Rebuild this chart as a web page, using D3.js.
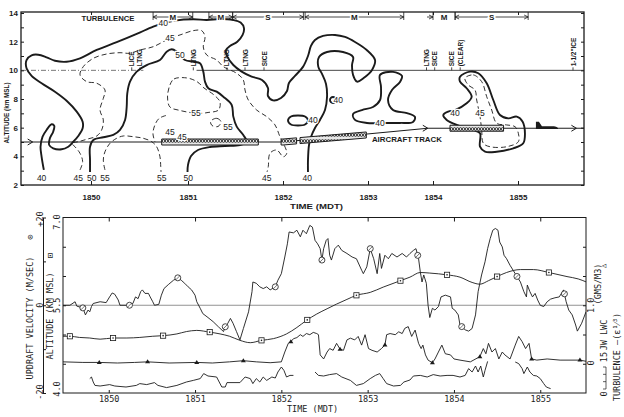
<!DOCTYPE html>
<html>
<head>
<meta charset="utf-8">
<script src="https://cdn.jsdelivr.net/npm/d3@7"></script>
<style>
  body { margin: 0; background: #fff; }
  svg { display: block; }
</style>
</head>
<body>
<svg id="fig" width="624" height="417"></svg>
<script>
// ---------- data ----------
// time = minutes after 18:50 MDT
var minuteTicks = [0, 1, 2, 3, 4, 5];
var minuteLabels = ["1850", "1851", "1852", "1853", "1854", "1855"];
var topAltTicks = [2, 3, 4, 5, 6, 7, 8, 9, 10, 11, 12, 13, 14];

// reflectivity contours, [time, altitude km]
var iso40Main = [[-0.485,3.05],[-0.508,3.97],[-0.519,4.67],[-0.498,5.37],[-0.457,5.84],[-0.405,6.24],[-0.378,6.12],[-0.389,5.72],[-0.423,5.26],[-0.430,4.79],[-0.389,4.56],[-0.302,4.49],[-0.234,4.67],[-0.182,5.02],[-0.131,5.42],[-0.086,5.96],[-0.086,6.42],[-0.147,7.12],[-0.251,7.88],[-0.371,8.51],[-0.508,9.10],[-0.611,9.61],[-0.663,10.14],[-0.663,10.72],[-0.611,11.05],[-0.543,11.09],[-0.457,10.91],[-0.371,10.67],[-0.251,10.60],[-0.113,10.84],[0.059,11.42],[0.265,11.96],[0.471,12.54],[0.642,13.05],[0.745,13.28],[0.866,13.47],[1.056,13.56],[1.197,13.51],[1.335,13.58],[1.476,13.51],[1.554,13.33],[1.589,12.94],[1.575,12.47],[1.519,12.0],[1.442,11.70],[1.40,11.42],[1.414,10.95],[1.477,10.37],[1.565,9.91],[1.67,9.56],[1.779,9.33],[1.842,8.77],[1.842,8.21],[1.895,7.90],[1.979,8.07],[2.047,8.56],[2.07,9.12],[2.141,9.61],[2.235,10.24],[2.294,11.0],[2.329,11.70],[2.376,12.12],[2.471,12.40],[2.612,12.47],[2.729,12.33],[2.847,11.98],[2.985,11.42],[3.108,10.72],[3.062,10.03],[2.945,9.45],[2.871,9.21],[2.824,9.68],[2.812,10.37],[2.824,10.93],[2.706,11.28],[2.518,11.28],[2.424,10.93],[2.415,10.26],[2.459,9.75],[2.506,9.05],[2.518,8.14],[2.494,7.23],[2.435,6.54],[2.376,5.98],[2.329,5.35],[2.306,4.79],[2.294,3.74],[2.294,2.91]];
var iso50 = [[-0.010,2.91],[-0.010,3.74],[-0.010,4.67],[0.024,5.14],[0.127,5.33],[0.230,5.49],[0.299,5.84],[0.351,6.54],[0.368,7.46],[0.374,8.40],[0.402,9.21],[0.471,9.91],[0.574,10.37],[0.711,10.72],[0.780,11.30],[0.832,11.47],[0.884,11.30],[0.918,11.07],[0.969,10.72],[1.056,10.60],[1.126,10.49],[1.161,9.91],[1.179,9.21],[1.214,8.75],[1.302,8.51],[1.372,8.16],[1.46,7.58],[1.477,6.77],[1.513,6.07],[1.582,5.49],[1.618,5.0],[1.547,4.79],[1.389,4.72],[1.232,4.65],[1.105,4.44],[1.032,4.02],[1.0,3.40],[0.995,2.91]];
var iso40Ring = [[2.059,6.50],[2.094,6.78],[2.176,6.85],[2.259,6.78],[2.294,6.50],[2.259,6.22],[2.176,6.15],[2.094,6.22]];
var iso40Dot = [[2.553,7.93],[2.563,8.08],[2.588,8.14],[2.613,8.08],[2.623,7.93],[2.613,7.78],[2.588,7.72],[2.563,7.78]];
var iso40Bone = [[3.185,9.68],[3.385,9.89],[3.523,9.61],[3.492,9.19],[3.369,8.63],[3.308,7.93],[3.385,7.23],[3.60,7.02],[3.723,6.75],[3.692,6.40],[3.492,6.33],[3.262,6.33],[2.988,6.33],[2.847,6.54],[2.824,6.95],[2.929,7.23],[3.077,7.44],[3.185,7.93],[3.20,8.84]];
var iso40East = [[4.318,9.56],[4.435,9.91],[4.533,9.80],[4.632,9.10],[4.709,7.93],[4.788,6.88],[4.886,6.65],[4.985,6.77],[5.055,6.42],[5.082,5.61],[5.062,4.91],[4.945,4.56],[4.749,4.32],[4.612,4.32],[4.553,4.67],[4.553,5.61],[4.474,5.84],[4.279,6.19],[4.161,6.54],[4.121,6.88],[4.180,7.12],[4.259,7.23],[4.396,7.70],[4.455,8.16],[4.396,8.75],[4.318,9.21]];
var iso45Main = [[-0.113,3.05],[-0.086,3.63],[-0.113,4.21],[-0.165,4.67],[-0.199,4.91],[-0.131,5.02],[-0.044,5.19],[0.059,5.42],[0.110,5.84],[0.127,6.54],[0.093,7.23],[0.127,8.05],[0.144,8.63],[0.059,9.10],[-0.044,9.21],[-0.113,9.68],[-0.079,10.26],[0.024,10.84],[0.162,11.14],[0.299,11.23],[0.402,11.19],[0.505,11.42],[0.642,11.65],[0.814,12.24],[0.918,12.47],[1.056,12.77],[1.144,12.77],[1.179,12.35],[1.161,11.63],[1.197,11.07],[1.302,10.72],[1.372,10.26],[1.513,9.79],[1.582,9.33],[1.60,8.63],[1.635,7.93],[1.723,7.23],[1.828,6.77],[1.916,6.19],[1.968,5.37],[2.004,4.91],[2.044,4.21],[2.004,3.97],[1.934,4.44],[1.863,4.21],[1.845,3.28],[1.832,2.91]];
var iso55Arch = [[0.144,3.05],[0.127,3.74],[0.144,4.32],[0.196,4.91],[0.265,5.26],[0.333,5.42],[0.436,5.37],[0.539,5.26],[0.626,5.02],[0.677,4.67],[0.711,3.97],[0.719,3.28],[0.722,2.91]];
var iso45Arc = [[0.773,6.85],[0.701,6.64],[0.655,6.12],[0.639,5.56],[0.660,5.0]];
var iso45Stub = [[0.985,5.26],[1.04,5.10]];
var iso55Core = [[0.814,8.98],[0.856,9.40],[0.987,9.47],[1.095,9.21],[1.168,8.77],[1.274,8.28],[1.337,7.79],[1.321,7.23],[1.211,7.06],[1.116,6.99],[1.021,7.06],[0.918,7.20],[0.814,7.44],[0.789,8.14]];
var iso55Cell = [[1.253,6.54],[1.305,6.65],[1.347,6.42],[1.316,6.08],[1.253,6.15],[1.237,6.40]];
var iso45East = [[4.376,9.45],[4.474,9.68],[4.573,9.21],[4.632,8.16],[4.691,7.23],[4.749,6.31],[4.867,6.19],[4.965,6.07],[5.004,5.61],[5.004,5.02],[4.867,4.67],[4.671,4.67],[4.592,4.91],[4.573,5.84],[4.553,6.77],[4.514,7.93],[4.494,8.63],[4.415,8.98]];

var isoLabels = [[-0.508,2.49,"40"],[-0.131,2.49,"45"],[0.007,2.49,"50"],[0.144,2.49,"55"],[0.729,2.49,"55"],[1.003,2.49,"50"],[1.828,2.49,"45"],[2.286,2.49,"40"],[0.745,13.28,"40"],[0.814,12.24,"45"],[0.918,11.07,"50"],[1.084,6.99,"55"],[1.421,6.07,"55"],[0.814,5.72,"45"],[0.938,5.35,"45"],[2.353,6.54,"40"],[2.65,7.93,"40"],[3.185,6.36,"40"],[4.259,7.0,"40"],[4.553,7.0,"45"]];

// aircraft track and sampled segments
var trackTime = [-0.72, 2.0, 3.92, 5.78];
var trackAlt = [5.0, 5.0, 5.96, 5.96];
var sampleBars = [[0.729, 1.74], [1.98, 2.16], [2.2, 2.98], [4.2, 4.83]];

// turbulence category along the top, [start, end, class]
var turbSegs = [[0.64, 1.05, "M"], [1.22, 1.47, "M"], [1.47, 2.24, "S"], [2.26, 3.55, "M"], [4.0, 4.26, "M"], [4.26, 5.12, "S"]];

// pilot notes at 10 km
var events = [[0.42, "LICE"], [0.505, "LTNG"], [1.056, "LTNG"], [1.41, "LTNG"], [1.60, "LTNG"], [1.80, "SICE"], [3.90, "LTNG"], [4.02, "SICE"], [4.22, "SICE"], [4.32, "(CLEAR)"], [5.65, '1-1/2"ICE']];

// ---- bottom panel series ----
var updraft = [[-0.53,0],[-0.45,0],[-0.39,0.8],[-0.37,-0.2],[-0.30,-0.6],[-0.27,-2.2],[-0.24,-1.1],[-0.22,-1.5],[-0.20,-0.3],[-0.18,0.4],[-0.10,0.8],[-0.03,0.6],[0.01,1.9],[0.04,2.8],[0.07,2.5],[0.11,1.2],[0.13,0],[0.24,0],[0.28,0.4],[0.31,1.9],[0.34,1.5],[0.37,3.1],[0.39,3.5],[0.42,2.7],[0.46,2.7],[0.48,1.9],[0.51,0.8],[0.53,0],[0.58,0.2],[0.61,2.3],[0.64,3.8],[0.69,4.7],[0.75,5.7],[0.80,6.25],[0.84,5.7],[0.88,5.0],[0.92,4.2],[0.96,3.5],[1.00,2.3],[1.02,0.8],[1.06,-0.7],[1.09,-1.9],[1.15,-2.8],[1.21,-3.75],[1.27,-4.9],[1.33,-6.0],[1.35,-4.9],[1.38,-4.1],[1.41,-3.0],[1.44,-4.1],[1.48,-6.0],[1.52,-7.9],[1.56,-5.3],[1.62,-1.5],[1.66,3.1],[1.67,5.3],[1.71,5.0],[1.75,4.2],[1.79,3.8],[1.83,4.2],[1.87,3.5],[1.93,4.2],[1.96,5.7],[2.00,7.2],[2.04,11],[2.07,14],[2.09,16.7],[2.14,16.5],[2.18,17.1],[2.22,15.6],[2.25,17.1],[2.29,16.3],[2.33,18.2],[2.36,17.8],[2.39,14.8],[2.42,14.0],[2.45,12.9],[2.47,10.3],[2.49,12.9],[2.52,14.8],[2.54,15.2],[2.56,11.4],[2.58,10.3],[2.62,12.9],[2.66,13.7],[2.70,12.5],[2.76,11.8],[2.82,11.0],[2.87,10.6],[2.93,8.0],[2.95,7.2],[2.99,8.75],[3.03,12.9],[3.07,10.6],[3.11,7.2],[3.14,11.8],[3.16,8.4],[3.20,11.4],[3.24,10.6],[3.28,11.8],[3.34,11.0],[3.40,11.8],[3.45,11.0],[3.49,11.8],[3.53,12.5],[3.56,12.9],[3.59,10.6],[3.61,7.6],[3.63,5.3],[3.65,6.9],[3.68,5.0],[3.70,0],[3.72,-2.8],[3.75,-0.7],[3.78,-1.1],[3.82,-0.3],[3.85,1.9],[3.90,2.3],[3.96,1.9],[3.98,-0.7],[4.01,-1.1],[4.05,-2.2],[4.07,-4.5],[4.13,-5.6],[4.17,-5.9],[4.21,-5.3],[4.25,-2.2],[4.28,3.1],[4.32,6.9],[4.36,9.9],[4.39,12.9],[4.42,15.2],[4.45,17.1],[4.48,17.5],[4.51,17.1],[4.53,14.4],[4.56,13.3],[4.58,11.4],[4.61,10.6],[4.65,9.1],[4.71,7.2],[4.77,5.3],[4.81,3.1],[4.84,1.9],[4.85,4.6],[4.88,3.1],[4.91,1.9],[4.94,2.7],[4.97,1.2],[5.00,0],[5.04,-0.3],[5.08,0.8],[5.12,1.4],[5.17,1.7],[5.22,1.9],[5.27,3.5],[5.30,0.8],[5.33,-1.1],[5.37,-2.2],[5.41,-4.5],[5.43,-5.9],[5.48,-4.1],[5.53,-1.5]];
var updraftMarks = [-0.30, 0.24, 0.80, 1.35, 1.93, 2.47, 3.03, 3.58, 4.09, 4.73, 5.28];

var altitude = [[-0.53,4.97],[-0.45,4.97],[-0.34,4.95],[-0.22,4.94],[-0.10,4.92],[0.05,4.94],[0.21,4.94],[0.36,4.95],[0.51,4.97],[0.63,4.98],[0.79,5.01],[0.90,5.05],[1.02,5.07],[1.17,5.04],[1.29,5.01],[1.40,4.97],[1.52,4.90],[1.64,4.86],[1.77,4.90],[1.91,4.93],[2.06,5.01],[2.18,5.12],[2.29,5.24],[2.41,5.35],[2.53,5.44],[2.64,5.52],[2.76,5.60],[2.87,5.67],[3.03,5.72],[3.18,5.81],[3.38,5.92],[3.49,5.98],[3.61,6.06],[3.72,6.05],[3.92,6.02],[4.07,5.98],[4.21,5.89],[4.30,5.86],[4.40,5.92],[4.50,5.99],[4.61,6.06],[4.77,6.11],[4.92,6.11],[5.10,6.06],[5.31,5.99],[5.44,5.95],[5.53,5.90]];
var altitudeMarks = [-0.45, 0.05, 0.63, 1.17, 1.77, 2.30, 2.87, 3.38, 3.92, 4.50, 5.10];

var lwc = [[-0.53,0.02],[-0.3,0.01],[-0.11,0.01],[0.1,0.0],[0.3,0.01],[0.45,0.02],[0.7,0.0],[1.02,0.01],[1.2,0.0],[1.40,0.02],[1.56,0.04],[1.71,0.02],[1.87,0.005],[2.0,0.02],[2.04,0.19],[2.08,0.34],[2.11,0.37],[2.14,0.42],[2.18,0.44],[2.22,0.49],[2.25,0.46],[2.29,0.51],[2.33,0.49],[2.37,0.53],[2.41,0.51],[2.43,0.49],[2.45,0.14],[2.49,0.07],[2.53,0.19],[2.56,0.25],[2.60,0.22],[2.64,0.34],[2.68,0.24],[2.72,0.22],[2.76,0.40],[2.80,0.43],[2.85,0.40],[2.89,0.46],[2.93,0.31],[2.97,0.49],[3.01,0.25],[3.05,0.22],[3.11,0.19],[3.16,0.25],[3.20,0.31],[3.22,0.49],[3.26,0.51],[3.32,0.49],[3.36,0.54],[3.40,0.51],[3.43,0.60],[3.47,0.63],[3.51,0.46],[3.55,0.57],[3.59,0.34],[3.62,0.25],[3.64,0.31],[3.67,0.14],[3.70,0.05],[3.75,0.005],[3.78,0.07],[3.82,0.19],[3.86,0.31],[3.90,0.16],[3.96,0.14],[4.0,0.07],[4.07,0.05],[4.19,0.02],[4.30,0.11],[4.34,0.25],[4.37,0.16],[4.40,0.34],[4.44,0.19],[4.48,0.25],[4.52,0.07],[4.56,0.19],[4.59,0.14],[4.65,0.07],[4.71,0.31],[4.75,0.46],[4.79,0.37],[4.83,0.25],[4.87,0.34],[4.90,0.07],[4.96,0.05],[5.08,0.07],[5.23,0.05],[5.46,0.05],[5.53,0.03]];
var lwcMarks = [-0.11, 0.45, 1.02, 1.56, 2.11, 2.68, 3.20, 3.75, 4.30, 4.90, 5.46];

// null = no record
var turbulence = [[-0.22,7.2],[-0.20,8.0],[-0.18,5.5],[-0.16,3.8],[-0.10,3.5],[0.01,4.2],[0.07,3.5],[0.20,3.0],[0.32,3.8],[0.36,4.7],[0.44,4.2],[0.53,5.2],[0.57,3.8],[0.67,2.7],[0.79,3.8],[0.90,5.5],[0.98,6.3],[1.06,7.2],[1.10,9.7],[1.15,8.5],[1.25,8.0],[1.28,5.5],[1.31,3.0],[1.35,3.0],[1.37,5.2],[1.52,5.2],[1.58,8.0],[1.64,7.2],[1.67,4.7],[1.71,7.2],[1.75,5.5],[1.79,8.0],[1.83,6.3],[1.89,8.0],[1.93,7.5],[1.96,10.5],[2.0,13],[2.03,11.3],[2.06,8.0],[2.10,8.8],[2.14,8.8],[2.2,null],[2.39,10.5],[2.43,8.8],[2.49,8.5],[2.56,9.2],[2.64,9.7],[2.70,8.0],[2.80,6.3],[2.87,3.8],[2.95,4.7],[3.03,7.2],[3.09,8.8],[3.14,9.7],[3.18,7.2],[3.22,4.7],[3.30,3.5],[3.38,3.8],[3.42,5.5],[3.49,6.5],[3.53,8.5],[3.61,8.8],[3.69,8.0],[3.76,9.2],[3.84,8.5],[3.92,8.8],[3.99,8.8],[4.07,8.0],[4.13,8.8],[4.17,12.2],[4.21,10.5],[4.25,13.5],[4.28,10.5],[4.31,13.5],[4.34,8.0],[4.36,11.3],[4.39,15.8],[4.5,null],[4.71,15.5],[4.75,14.7],[4.79,12.2],[4.81,9.7],[4.85,13],[4.88,10.5],[4.92,8.8],[4.96,8.5],[5.0,7.2],[5.04,4.7],[5.07,3.0],[5.10,2.5],[5.12,2.2]];

// ---------- drawing ----------
var ink = "#1b1b1b";
var svg = d3.select("#fig");
var sans = "'Liberation Sans', Arial, sans-serif";
var mono = "'DejaVu Sans Mono', monospace";

// ===== top panel =====
var T = { left: 21, top: 12, right: 584, bottom: 185 };
// time axis in the cross-section is not uniform (plotted along the track)
var tx = d3.scaleLinear()
    .domain([-0.72, 0, 1, 2, 3, 4, 5, 5.78])
    .range([21, 91, 188, 283, 368, 433, 518, 584]);
var ty = d3.scaleLinear().domain([2, 14]).range([185, 13]);

var defs = svg.append("defs");
defs.append("clipPath").attr("id", "clipTop").append("rect")
    .attr("x", T.left).attr("y", T.top).attr("width", T.right - T.left).attr("height", T.bottom - T.top);
var pat = defs.append("pattern").attr("id", "beads")
    .attr("patternUnits", "userSpaceOnUse").attr("width", 3).attr("height", 6);
pat.append("rect").attr("width", 3).attr("height", 6).attr("fill", "#e8e8e8");
pat.append("circle").attr("cx", 1.5).attr("cy", 3).attr("r", 1.35)
    .attr("fill", "#fff").attr("stroke", ink).attr("stroke-width", 0.9);

var gTop = svg.append("g");
var plotTop = gTop.append("g").attr("clip-path", "url(#clipTop)");

// 10 km reference line
plotTop.append("line")
    .attr("x1", tx(-0.72)).attr("x2", tx(0.54))
    .attr("y1", ty(10)).attr("y2", ty(10))
    .attr("stroke", "#555").attr("stroke-width", 0.8).attr("stroke-dasharray", "5,2,1,2");
plotTop.append("line")
    .attr("x1", tx(1.09)).attr("x2", tx(5.78))
    .attr("y1", ty(10)).attr("y2", ty(10))
    .attr("stroke", "#333").attr("stroke-width", 0.9);

var openLine = d3.line().x(function(d) { return tx(d[0]); }).y(function(d) { return ty(d[1]); })
    .curve(d3.curveCatmullRom.alpha(0.5));
var loopLine = d3.line().x(function(d) { return tx(d[0]); }).y(function(d) { return ty(d[1]); })
    .curve(d3.curveCatmullRomClosed.alpha(0.5));

[iso40Main, iso50].forEach(function(c) {
    plotTop.append("path").attr("d", openLine(c))
        .attr("fill", "none").attr("stroke", ink).attr("stroke-width", 1.9);
});
[iso40Ring, iso40Dot, iso40Bone, iso40East].forEach(function(c) {
    plotTop.append("path").attr("d", loopLine(c))
        .attr("fill", "none").attr("stroke", ink).attr("stroke-width", 1.9);
});
[iso45Main, iso55Arch, iso45Arc, iso45Stub].forEach(function(c) {
    plotTop.append("path").attr("d", openLine(c))
        .attr("fill", "none").attr("stroke", ink).attr("stroke-width", 0.9)
        .attr("stroke-dasharray", "5,3");
});
[iso55Core, iso55Cell, iso45East].forEach(function(c) {
    plotTop.append("path").attr("d", loopLine(c))
        .attr("fill", "none").attr("stroke", ink).attr("stroke-width", 0.9)
        .attr("stroke-dasharray", "5,3");
});

// aircraft track
var trackY = d3.scaleLinear().domain(trackTime).range(trackAlt);
var trackLine = d3.line().x(function(d) { return tx(d); }).y(function(d) { return ty(trackY(d)); });
plotTop.append("path").attr("d", trackLine(trackTime))
    .attr("fill", "none").attr("stroke", ink).attr("stroke-width", 1);

// sampled segments drawn as beaded bands on the track
sampleBars.forEach(function(b) {
    var ts = [b[0]].concat(trackTime.filter(function(t) { return t > b[0] && t < b[1]; }), [b[1]]);
    var upper = ts.map(function(t) { return [tx(t), ty(trackY(t)) - 3]; });
    var lower = ts.slice().reverse().map(function(t) { return [tx(t), ty(trackY(t)) + 3]; });
    plotTop.append("path")
        .attr("d", "M" + upper.concat(lower).join("L") + "Z")
        .attr("fill", "url(#beads)").attr("stroke", ink).attr("stroke-width", 1);
});

// arrowheads on track
[-0.6, 3.92, 5.69].forEach(function(t) {
    var x = tx(t), y = ty(trackY(t));
    plotTop.append("path").attr("d", "M" + (x - 5) + "," + (y - 3) + "L" + x + "," + y + "L" + (x - 5) + "," + (y + 3))
        .attr("fill", "none").attr("stroke", ink).attr("stroke-width", 1);
});

// aircraft silhouette
(function() {
    var x = tx(5.33), y = ty(trackY(5.33));
    plotTop.append("path")
        .attr("d", "M-10,0 L-10,-6.5 L-7,-6.5 L-4,-2 L8,-2 Q13,-1 12,0.8 L-10,0.8 Z")
        .attr("transform", "translate(" + x + "," + y + ")")
        .attr("fill", ink);
})();

gTop.append("text")
    .attr("x", tx(3.06)).attr("y", ty(5.0))
    .attr("font-family", sans).attr("font-size", 8).attr("font-weight", "bold")
    .attr("textLength", 70).attr("lengthAdjust", "spacingAndGlyphs")
    .attr("fill", ink).text("AIRCRAFT TRACK");

// contour labels
gTop.selectAll(".isoLab").data(isoLabels).enter().append("text")
    .attr("class", "isoLab")
    .attr("x", function(d) { return tx(d[0]); })
    .attr("y", function(d) { return ty(d[1]); })
    .attr("text-anchor", "middle").attr("dominant-baseline", "central")
    .attr("font-family", sans).attr("font-size", 8.5)
    .attr("fill", ink).attr("stroke", "#fff").attr("stroke-width", 2.5)
    .attr("paint-order", "stroke")
    .text(function(d) { return d[2]; });

// pilot notes
events.forEach(function(e) {
    var x = tx(e[0]), y = ty(10);
    gTop.append("line").attr("x1", x).attr("x2", x).attr("y1", y).attr("y2", y - 3)
        .attr("stroke", ink).attr("stroke-width", 0.8);
    gTop.append("text")
        .attr("transform", "translate(" + x + "," + (y - 4) + ") rotate(-90)")
        .attr("dominant-baseline", "central")
        .attr("font-family", sans).attr("font-size", 6.5).attr("font-weight", "bold")
        .attr("fill", ink).text(e[1]);
});

// turbulence classes along the top
var hy = 17;
turbSegs.forEach(function(s) {
    var x0 = tx(s[0]), x1 = tx(s[1]);
    var g = gTop.append("g").attr("stroke", ink).attr("stroke-width", 0.8).attr("fill", "none");
    g.append("line").attr("x1", x0).attr("x2", x0).attr("y1", T.top).attr("y2", hy + 3);
    g.append("line").attr("x1", x1).attr("x2", x1).attr("y1", T.top).attr("y2", hy + 3);
    if (x1 - x0 > 23) {
        g.append("line").attr("x1", x0).attr("x2", x1).attr("y1", hy).attr("y2", hy);
        g.append("path").attr("d", "M" + (x0 + 4) + "," + (hy - 2) + "L" + x0 + "," + hy + "L" + (x0 + 4) + "," + (hy + 2));
        g.append("path").attr("d", "M" + (x1 - 4) + "," + (hy - 2) + "L" + x1 + "," + hy + "L" + (x1 - 4) + "," + (hy + 2));
    } else {
        g.append("line").attr("x1", x0 - 6).attr("x2", x0).attr("y1", hy).attr("y2", hy);
        g.append("path").attr("d", "M" + (x0 - 4) + "," + (hy - 2) + "L" + x0 + "," + hy + "L" + (x0 - 4) + "," + (hy + 2));
    }
    gTop.append("text").attr("x", (x0 + x1) / 2).attr("y", hy)
        .attr("text-anchor", "middle").attr("dominant-baseline", "central")
        .attr("font-family", sans).attr("font-size", 8).attr("font-weight", "bold")
        .attr("fill", ink).attr("stroke", "#fff").attr("stroke-width", 3).attr("paint-order", "stroke")
        .text(s[2]);
});
gTop.append("text").attr("x", 108).attr("y", 18)
    .attr("text-anchor", "middle").attr("dominant-baseline", "central")
    .attr("font-family", sans).attr("font-size", 8).attr("font-weight", "bold")
    .attr("textLength", 53).attr("lengthAdjust", "spacingAndGlyphs")
    .attr("fill", ink).text("TURBULENCE");

// frame and axes
gTop.append("rect").attr("x", T.left).attr("y", T.top)
    .attr("width", T.right - T.left).attr("height", T.bottom - T.top)
    .attr("fill", "none").attr("stroke", ink).attr("stroke-width", 1.3);

gTop.append("g").attr("transform", "translate(" + T.left + ",0)")
    .call(d3.axisLeft(ty).tickValues(topAltTicks).tickSizeInner(-3).tickSizeOuter(0).tickPadding(3)
        .tickFormat(function(d) { return d % 2 === 0 ? d : ""; }));
gTop.append("g").attr("transform", "translate(" + T.right + ",0)")
    .call(d3.axisRight(ty).tickValues(topAltTicks).tickSizeInner(-3).tickSizeOuter(0).tickFormat(""));
gTop.append("g").attr("transform", "translate(0," + T.bottom + ")")
    .call(d3.axisBottom(tx).tickValues(minuteTicks).tickSizeInner(-4).tickSizeOuter(0).tickPadding(9)
        .tickFormat(function(d, i) { return minuteLabels[i]; }));
gTop.append("g").attr("transform", "translate(0," + T.top + ")")
    .call(d3.axisTop(tx).tickValues(minuteTicks).tickSizeInner(-3).tickSizeOuter(0).tickFormat(""));
gTop.selectAll(".domain").remove();
gTop.selectAll(".tick line").attr("stroke", ink);
gTop.selectAll(".tick text").attr("font-family", sans).attr("font-size", 8)
    .attr("font-weight", "bold").attr("fill", ink);

gTop.append("text").attr("x", 290).attr("y", 208.5)
    .attr("font-family", sans).attr("font-size", 8).attr("font-weight", "bold")
    .attr("textLength", 53).attr("lengthAdjust", "spacingAndGlyphs")
    .attr("fill", ink).text("TIME (MDT)");
gTop.append("text").attr("transform", "translate(6,113) rotate(-90)")
    .attr("text-anchor", "middle").attr("dominant-baseline", "central")
    .attr("font-family", sans).attr("font-size", 7.5).attr("font-weight", "bold")
    .attr("textLength", 61).attr("lengthAdjust", "spacingAndGlyphs")
    .attr("fill", ink).text("ALTITUDE (km MSL)");

// ===== bottom panel =====
var B = { left: 63, top: 217.5, right: 586, bottom: 393 };
var bx = d3.scaleLinear().domain([-0.53, 5.53]).range([B.left, B.right]);
var velY = d3.scaleLinear().domain([-20, 20]).range([B.bottom, B.top]);
var altY = d3.scaleLinear().domain([4, 7]).range([B.bottom, B.top]);
var lwcY = d3.scaleLinear().domain([0, 1]).range([363, altY(5.5)]);
var turbY = d3.scaleLinear().domain([0, 15]).range([B.bottom, 363]);

defs.append("clipPath").attr("id", "clipBot").append("rect")
    .attr("x", B.left).attr("y", B.top).attr("width", B.right - B.left).attr("height", B.bottom - B.top);

var gBot = svg.append("g");
var plotBot = gBot.append("g").attr("clip-path", "url(#clipBot)");

plotBot.append("line").attr("x1", B.left).attr("x2", B.right)
    .attr("y1", velY(0)).attr("y2", velY(0))
    .attr("stroke", "#777").attr("stroke-width", 0.8);

function seriesLine(yScale, curve) {
    return d3.line()
        .defined(function(d) { return d[1] !== null; })
        .x(function(d) { return bx(d[0]); })
        .y(function(d) { return yScale(d[1]); })
        .curve(curve || d3.curveLinear);
}
plotBot.append("path").attr("d", seriesLine(velY)(updraft))
    .attr("fill", "none").attr("stroke", ink).attr("stroke-width", 0.9);
plotBot.append("path").attr("d", seriesLine(altY, d3.curveMonotoneX)(altitude))
    .attr("fill", "none").attr("stroke", ink).attr("stroke-width", 0.9);
plotBot.append("path").attr("d", seriesLine(lwcY)(lwc))
    .attr("fill", "none").attr("stroke", ink).attr("stroke-width", 0.9);
plotBot.append("path").attr("d", seriesLine(turbY)(turbulence))
    .attr("fill", "none").attr("stroke", ink).attr("stroke-width", 0.9);

// markers placed on each trace
var velAt = d3.scaleLinear().domain(updraft.map(function(d) { return d[0]; })).range(updraft.map(function(d) { return d[1]; }));
var altAt = d3.scaleLinear().domain(altitude.map(function(d) { return d[0]; })).range(altitude.map(function(d) { return d[1]; }));
var lwcAt = d3.scaleLinear().domain(lwc.map(function(d) { return d[0]; })).range(lwc.map(function(d) { return d[1]; }));

updraftMarks.forEach(function(t) {
    var x = bx(t), y = velY(velAt(t));
    gBot.append("circle").attr("cx", x).attr("cy", y).attr("r", 3)
        .attr("fill", "#fff").attr("stroke", ink).attr("stroke-width", 0.8);
    gBot.append("line").attr("x1", x - 2).attr("x2", x + 2).attr("y1", y + 2).attr("y2", y - 2)
        .attr("stroke", ink).attr("stroke-width", 0.6);
});
altitudeMarks.forEach(function(t) {
    var x = bx(t), y = altY(altAt(t));
    gBot.append("rect").attr("x", x - 2.6).attr("y", y - 2.6).attr("width", 5.2).attr("height", 5.2)
        .attr("fill", "#fff").attr("stroke", ink).attr("stroke-width", 0.8);
    gBot.append("circle").attr("cx", x).attr("cy", y).attr("r", 0.8).attr("fill", ink);
});
lwcMarks.forEach(function(t) {
    var x = bx(t), y = lwcY(lwcAt(t));
    gBot.append("path").attr("d", "M" + (x - 2.5) + "," + (y + 1.5) + "L" + x + "," + (y - 2.5) + "L" + (x + 2.5) + "," + (y + 1.5) + "Z")
        .attr("fill", ink);
});

// frame and ticks
gBot.append("rect").attr("x", B.left).attr("y", B.top)
    .attr("width", B.right - B.left).attr("height", B.bottom - B.top)
    .attr("fill", "none").attr("stroke", ink).attr("stroke-width", 1);
var altTicks = [4.5, 5, 5.5, 6, 6.5];
gBot.append("g").attr("transform", "translate(" + B.left + ",0)")
    .call(d3.axisLeft(altY).tickValues(altTicks).tickSizeInner(-3).tickSizeOuter(0).tickFormat(""));
gBot.append("g").attr("transform", "translate(" + B.right + ",0)")
    .call(d3.axisRight(altY).tickValues(altTicks).tickSizeInner(-3).tickSizeOuter(0).tickFormat(""));
gBot.append("g").attr("transform", "translate(0," + B.top + ")")
    .call(d3.axisTop(bx).tickValues(minuteTicks).tickSizeInner(-4).tickSizeOuter(0).tickFormat(""));
gBot.append("g").attr("transform", "translate(0," + B.bottom + ")")
    .call(d3.axisBottom(bx).tickValues(minuteTicks).tickSizeInner(-3).tickSizeOuter(0).tickPadding(3)
        .tickFormat(function(d, i) { return minuteLabels[i]; }));
gBot.selectAll(".domain").remove();
// separate velocity axis
gBot.append("g").attr("transform", "translate(43,0)")
    .call(d3.axisRight(velY).tickValues([-20, -10, 0, 10, 20]).tickSizeInner(3).tickSizeOuter(0).tickFormat(""));
gBot.selectAll(".domain").attr("stroke", ink);
gBot.selectAll(".tick line").attr("stroke", ink);
gBot.selectAll(".tick text").attr("font-family", mono).attr("font-size", 8.5).attr("fill", ink);

function vtext(x, y, s, size) {
    gBot.append("text").attr("transform", "translate(" + x + "," + y + ") rotate(-90)")
        .attr("text-anchor", "middle").attr("dominant-baseline", "central")
        .attr("font-family", mono).attr("font-size", size || 8.5).attr("fill", ink).text(s);
}
vtext(39.5, 219, "+20"); vtext(39.5, velY(0), "0"); vtext(39.5, 392, "-20");
vtext(57, 222, "7.0"); vtext(57, altY(5.5), "5.5"); vtext(57, 389, "4.0");
vtext(29.5, 318, "UPDRAFT VELOCITY (M/SEC)");
vtext(29.5, 237, "\u2299", 9);
vtext(50, 316, "ALTITUDE (KM MSL)");
vtext(50, 255.5, "\u22A1", 9);

vtext(591, lwcY(1), "1.0"); vtext(591, lwcY(0), "0");
vtext(597.5, 284, "(GMS/M3)");
vtext(603.5, 335, "JW LWC");
vtext(603.5, 357, "15");
vtext(603.5, 394, "0");
vtext(603.5, 266, "\u25B3", 7);
// small turbulence scale bracket
(function() {
    var g = gBot.append("g").attr("stroke", ink).attr("stroke-width", 0.7).attr("fill", "none");
    g.append("line").attr("x1", 606).attr("x2", 606).attr("y1", turbY(0) - 4).attr("y2", turbY(15) + 4);
    [0, 5, 10, 15].forEach(function(v) {
        var y = turbY(0) - 4 + (turbY(15) - turbY(0) + 8) * v / 15;
        g.append("line").attr("x1", 603).attr("x2", 606).attr("y1", y).attr("y2", y);
    });
})();
vtext(617, 357, "TURBULENCE \u2014(\u03B5\u00B9\u2044\u00B3)");

gBot.append("text").attr("x", 287).attr("y", 412)
    .attr("font-family", mono).attr("font-size", 8.5).attr("fill", ink).text("TIME (MDT)");
</script>
</body>
</html>
